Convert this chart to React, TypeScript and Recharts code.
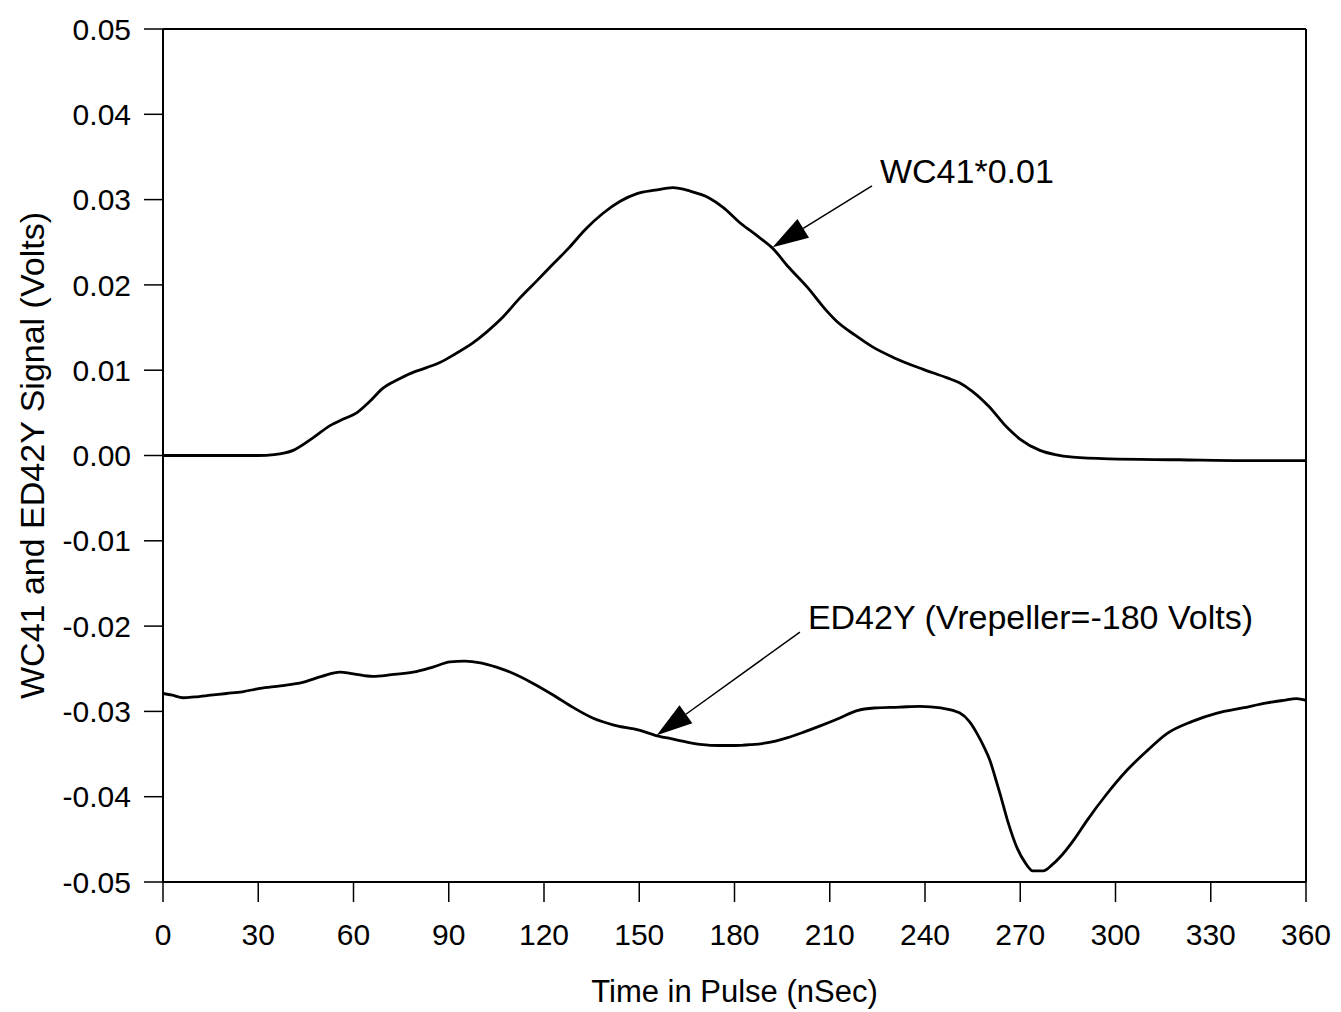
import React from 'react';
import { LineChart, Line, XAxis, YAxis, ReferenceLine, Label } from 'recharts';

// WC41 (scaled by 0.01) — time in nSec, signal in volts
const wcTime = [
  0, 10, 20, 30, 35, 41, 47, 52.6, 57, 61, 65, 69.3, 74, 77.8, 83, 87.2, 92, 97.6, 102, 107, 112,
  117.8, 123, 128, 133, 138.6, 144, 149.3, 155, 160.6, 166, 172, 176.4, 182, 187, 192, 197, 203,
  208, 212, 218, 223.6, 230, 239.4, 247, 251, 255, 260, 265.8, 270, 276.2, 281, 286.6, 298, 320,
  340, 360,
];
const wcSignal = [
  0, 0, 0, 0, 0.0001, 0.0006, 0.002, 0.0035, 0.0043, 0.005, 0.0063, 0.0079, 0.0089, 0.0096, 0.0103,
  0.0109, 0.0119, 0.0132, 0.0145, 0.0162, 0.0183, 0.0205, 0.0225, 0.0244, 0.0265, 0.0284, 0.0298,
  0.0307, 0.0311, 0.0314, 0.031, 0.0302, 0.0291, 0.0272, 0.0258, 0.0243, 0.0221, 0.0197, 0.0174,
  0.0158, 0.0141, 0.0127, 0.0115, 0.0101, 0.0091, 0.0085, 0.0075, 0.0058, 0.0033, 0.0019, 0.0006,
  0.0001, -0.0002, -0.0004, -0.0005, -0.0006, -0.0006,
];

// ED42Y (Vrepeller = -180 V)
const edTime = [
  0, 3, 6.3, 10, 15, 20, 25, 30.5, 37, 44, 50, 55.7, 60, 66, 72, 78.8, 85, 90.4, 95, 100, 105, 110,
  116, 123, 129, 135.5, 142, 150, 155, 160, 165, 170, 175, 180, 185, 190, 196.5, 202, 207, 213,
  218.6, 224, 232, 238.4, 245, 251, 254, 256.4, 258.5, 260.5, 262, 263.6, 266, 269, 271.5, 274,
  277.2, 280, 282.5, 287, 291, 297, 303.6, 310, 316.2, 324, 332, 340, 347.7, 353, 357, 360,
];
const edSignal = [
  -0.0279, -0.0281, -0.0284, -0.0283, -0.0281, -0.0279, -0.0277, -0.0273, -0.027, -0.0266,
  -0.0259, -0.0254, -0.0256, -0.0259, -0.0257, -0.0254, -0.0248, -0.0242, -0.0241, -0.0243,
  -0.0248, -0.0255, -0.0266, -0.0281, -0.0295, -0.0308, -0.0316, -0.0322, -0.0328, -0.0332,
  -0.0336, -0.0339, -0.034, -0.034, -0.0339, -0.0337, -0.0331, -0.0324, -0.0317, -0.0308,
  -0.0299, -0.0296, -0.0295, -0.0294, -0.0296, -0.0302, -0.0312, -0.0326, -0.0341, -0.0358,
  -0.0376, -0.0396, -0.0428, -0.046, -0.0477, -0.0487, -0.0487, -0.048, -0.0471, -0.045, -0.0428,
  -0.0398, -0.0369, -0.0346, -0.0326, -0.0312, -0.0302, -0.0296, -0.029, -0.0287, -0.0285,
  -0.0287,
];

const xTicks = [0, 30, 60, 90, 120, 150, 180, 210, 240, 270, 300, 330, 360];
const yTicks = [-0.05, -0.04, -0.03, -0.02, -0.01, 0, 0.01, 0.02, 0.03, 0.04, 0.05];

// annotation: [label start (time, volts), arrow tip (time, volts)]
const wcNote = { text: 'WC41*0.01', from: { x: 223.3, y: 0.0316 }, to: { x: 192, y: 0.0244 } };
const edNote = { text: 'ED42Y (Vrepeller=-180 Volts)', from: { x: 200.6, y: -0.0207 }, to: { x: 155.5, y: -0.0328 } };

const wcData = wcTime.map((t, i) => ({ t, v: wcSignal[i] }));
const edData = edTime.map((t, i) => ({ t, v: edSignal[i] }));

const tickStyle = { fontSize: 30, fill: '#000' };
const axisLine = { stroke: '#000', strokeWidth: 2 };

const arrowShape = (text: string) => (props: any) => {
  const { x1, y1, x2, y2 } = props;
  const dx = x2 - x1;
  const dy = y2 - y1;
  const len = Math.sqrt(dx * dx + dy * dy);
  const ux = dx / len;
  const uy = dy / len;
  const headLen = 36;
  const half = 11;
  const bx = x2 - ux * headLen;
  const by = y2 - uy * headLen;
  const pts = `${x2},${y2} ${bx - uy * half},${by + ux * half} ${bx + uy * half},${by - ux * half}`;
  return (
    <g>
      <line x1={x1} y1={y1} x2={bx} y2={by} stroke="#000" strokeWidth={1.5} />
      <polygon points={pts} fill="#000" />
      <text x={x1 + 8} y={y1 - 3} fontSize={34} fill="#000">
        {text}
      </text>
    </g>
  );
};

export default function App() {
  return (
    <div style={{ position: 'absolute', left: 0, top: 0, fontFamily: "'Liberation Sans', Arial, sans-serif" }}>
      <LineChart width={1341} height={1012} margin={{ top: 0, right: 0, bottom: 0, left: 0 }}>
        <XAxis
          dataKey="t"
          type="number"
          domain={[0, 360]}
          ticks={xTicks}
          height={130}
          tickSize={20}
          tickMargin={22}
          tick={tickStyle}
          axisLine={axisLine}
          tickLine={{ stroke: '#000', strokeWidth: 1.5 }}
          allowDataOverflow
        >
          <Label value="Time in Pulse (nSec)" position="insideBottom" offset={10} style={{ fontSize: 31, fill: '#000' }} />
        </XAxis>
        <XAxis
          xAxisId="top"
          orientation="top"
          dataKey="t"
          type="number"
          domain={[0, 360]}
          ticks={xTicks}
          height={29}
          tickSize={19}
          tick={false}
          axisLine={axisLine}
          tickLine={{ stroke: '#000', strokeWidth: 1.5 }}
          allowDataOverflow
        />
        <YAxis
          type="number"
          domain={[-0.05, 0.05]}
          ticks={yTicks}
          width={163}
          tickSize={19}
          tickMargin={13}
          tick={tickStyle}
          tickFormatter={(v: number) => v.toFixed(2)}
          axisLine={axisLine}
          tickLine={{ stroke: '#000', strokeWidth: 1.5 }}
          allowDataOverflow
        >
          <Label
            value="WC41 and ED42Y Signal (Volts)"
            angle={-90}
            position="insideLeft"
            offset={32}
            style={{ fontSize: 34, fill: '#000', textAnchor: 'middle' }}
          />
        </YAxis>
        <YAxis
          yAxisId="right"
          orientation="right"
          type="number"
          domain={[-0.05, 0.05]}
          ticks={yTicks}
          width={35}
          tickSize={20}
          tick={false}
          axisLine={axisLine}
          tickLine={{ stroke: '#000', strokeWidth: 1.5 }}
          allowDataOverflow
        />
        <Line data={wcData} dataKey="v" type="monotone" stroke="#000" strokeWidth={2.8} dot={false} isAnimationActive={false} />
        <Line data={edData} dataKey="v" type="monotone" stroke="#000" strokeWidth={2.8} dot={false} isAnimationActive={false} />
        <ReferenceLine segment={[wcNote.from, wcNote.to]} shape={arrowShape(wcNote.text)} />
        <ReferenceLine segment={[edNote.from, edNote.to]} shape={arrowShape(edNote.text)} />
      </LineChart>
    </div>
  );
}
